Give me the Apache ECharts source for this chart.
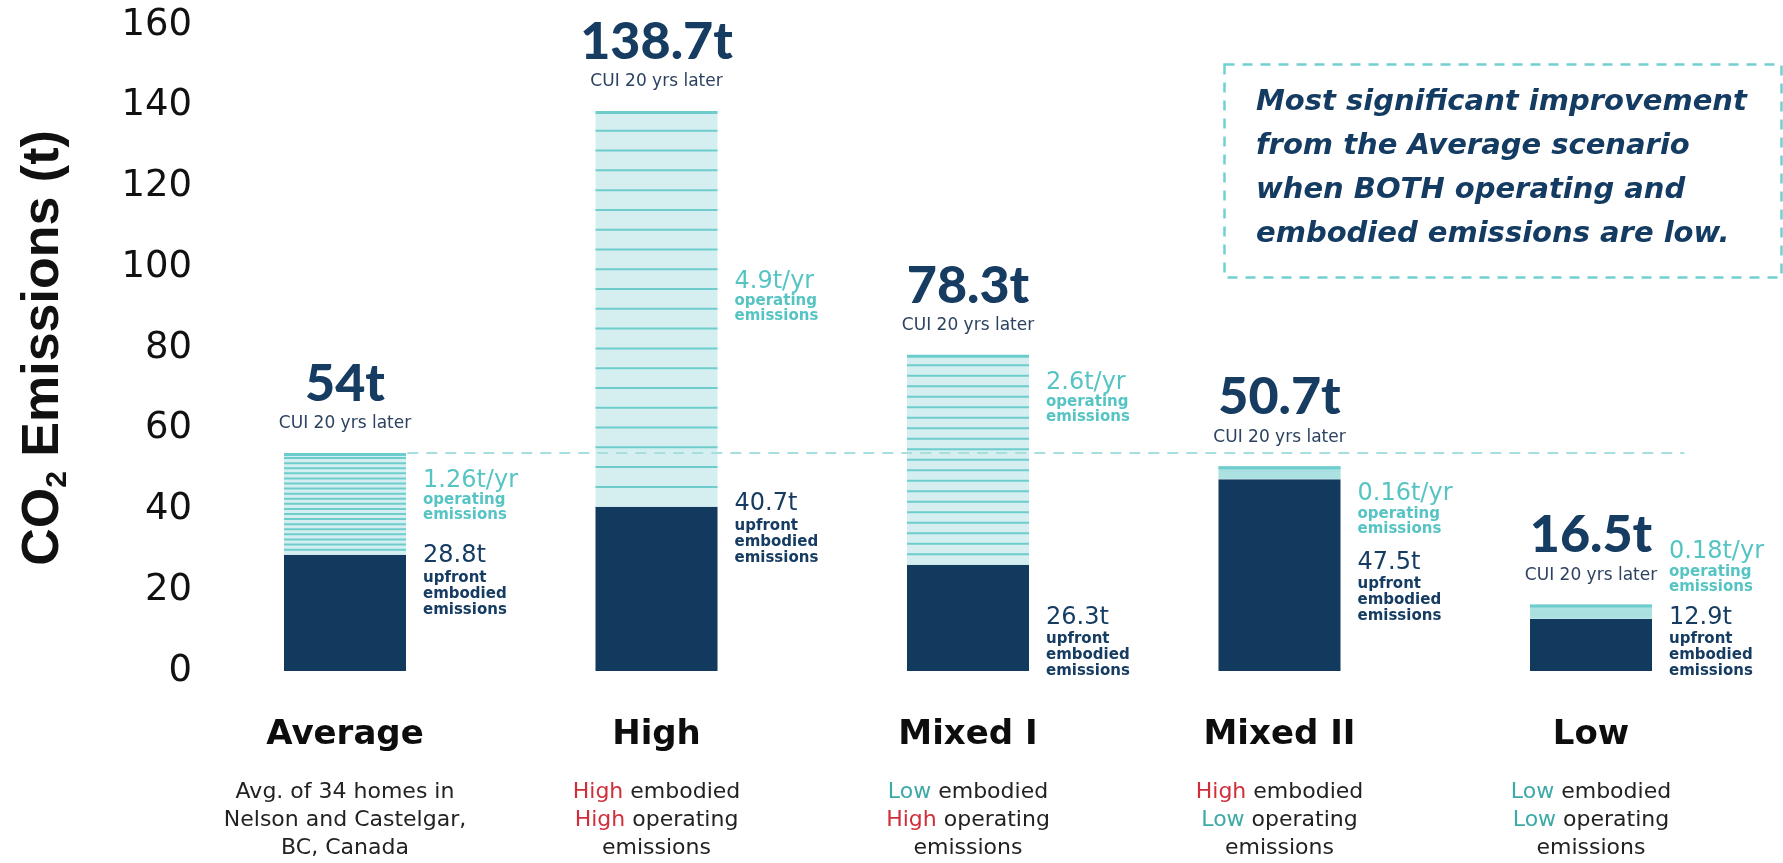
<!DOCTYPE html>
<html>
<head>
<meta charset="utf-8">
<script src="https://cdn.jsdelivr.net/npm/echarts@6/dist/echarts.min.js"></script>
<style>
  html, body { margin: 0; padding: 0; background: #ffffff; }
  #chart { width: 1783px; height: 863px; }
</style>
</head>
<body>
<div id="chart"></div>
<script>
// ---- data ----
const categories = ['Average', 'High', 'Mixed I', 'Mixed II', 'Low'];
const embodied = [28.8, 40.7, 26.3, 47.5, 12.9];          // upfront embodied emissions (t)
const operatingPerYear = [1.26, 4.9, 2.6, 0.16, 0.18];     // operating emissions (t/yr)
const YEARS = 20;                                          // horizon of the CUI figure
const embodiedLevel = ['', 'High', 'Low', 'High', 'Low'];
const operatingLevel = ['', 'High', 'High', 'Low', 'Low'];
const averageNote = ['Avg. of 34 homes in', 'Nelson and Castelgar,', 'BC, Canada'];
const yMin = 0, yMax = 160, yStep = 20;
const noteLines = [
  'Most significant improvement',
  'from the Average scenario',
  'when BOTH operating and',
  'embodied emissions are low.'
];

// cumulative emissions after YEARS years
const totals = embodied.map((e, i) => e + YEARS * operatingPerYear[i]);
const fmtT = v => String(+v.toFixed(1));

// ---- styling / layout ----
const NAVY = '#12395e';
const NAVY_TEXT = '#163c62';
const TEAL_TEXT = '#57c4c4';
const TEAL_FILL = '#d5eff0';
const STRIPE = '#6dcdcd';
const RED = '#cf2f3b';
const LOW_TEAL = '#3daaa8';
const BAR_W = 122;
const LABEL_PAD = 17;
// vertical nudges (px) for the side labels of each bar
const rateLabelDy = [19, 162, 19, 19, -61];
const embLabelDy = [-8, -12, 43, 74, -11];
// span of the Average reference line, in category units
const DASH_FROM = 0.2, DASH_TO = 4.3;

const SANS = "'DejaVu Sans', sans-serif";

function renderOperating(params, api) {
  const i = api.value(0);
  const emb = api.value(1);
  const rate = api.value(2);
  const total = emb + YEARS * rate;
  const pBase = api.coord([i, emb]);
  const pTop = api.coord([i, total]);
  const x0 = pBase[0] - BAR_W / 2;
  const h = pBase[1] - pTop[1];
  const gap = h / YEARS;
  const children = [];

  children.push({
    type: 'rect',
    shape: { x: x0, y: pTop[1], width: BAR_W, height: h },
    style: { fill: TEAL_FILL }
  });
  // one stripe per year of operating emissions
  for (let k = 1; k <= YEARS; k++) {
    const y = api.coord([i, emb + k * rate])[1];
    const w = k === YEARS ? 3 : Math.min(2, gap * 0.45);
    const yy = k === YEARS ? y + w / 2 : y;
    children.push({
      type: 'line',
      shape: { x1: x0, y1: yy, x2: x0 + BAR_W, y2: yy },
      style: { stroke: STRIPE, lineWidth: w }
    });
  }

  // total after 20 years, above the bar
  children.push({
    type: 'text',
    x: pBase[0],
    y: pTop[1] - 17,
    style: {
      text: '{big|' + fmtT(total) + 't}\n{cui|CUI 20 yrs later}',
      align: 'center',
      verticalAlign: 'bottom',
      rich: {
        big: { fontFamily: 'Lato, sans-serif', fontWeight: 900, fontSize: 52, lineHeight: 56, fill: NAVY_TEXT, align: 'center' },
        cui: { fontFamily: SANS, fontSize: 17, lineHeight: 24, fill: '#2c4260', align: 'center' }
      }
    }
  });

  const xr = x0 + BAR_W + LABEL_PAD;
  // operating rate label
  children.push({
    type: 'text',
    x: xr,
    y: pTop[1] + rateLabelDy[i] - 4,
    style: {
      text: '{v|' + rate + 't/yr}\n{s|operating}\n{s|emissions}',
      align: 'left',
      verticalAlign: 'top',
      rich: {
        v: { fontFamily: SANS, fontSize: 24, lineHeight: 25, fill: TEAL_TEXT, align: 'left' },
        s: { fontFamily: SANS, fontWeight: 'bold', fontSize: 15, lineHeight: 15, fill: TEAL_TEXT, align: 'left' }
      }
    }
  });
  // embodied label
  children.push({
    type: 'text',
    x: xr,
    y: pBase[1] + embLabelDy[i] - 4,
    style: {
      text: '{v|' + emb + 't}\n{s|upfront}\n{s|embodied}\n{s|emissions}',
      align: 'left',
      verticalAlign: 'top',
      rich: {
        v: { fontFamily: SANS, fontSize: 24, lineHeight: 27, fill: NAVY_TEXT, align: 'left' },
        s: { fontFamily: SANS, fontWeight: 'bold', fontSize: 15, lineHeight: 16, fill: NAVY_TEXT, align: 'left' }
      }
    }
  });

  return { type: 'group', children: children };
}

// dashed reference line at the Average total, running across the other scenarios
function renderAverageLine(params, api) {
  const v = api.value(1);
  const p0 = api.coord([0, v]);
  const p1 = api.coord([1, v]);
  const step = p1[0] - p0[0];
  return {
    type: 'line',
    shape: { x1: p0[0] + step * DASH_FROM, y1: p0[1], x2: p0[0] + step * DASH_TO, y2: p0[1] },
    style: { stroke: '#a7dfdf', lineWidth: 2, lineDash: [11, 8] }
  };
}

function levelKey(level) { return level === 'High' ? 'hi' : 'lo'; }

const chart = echarts.init(document.getElementById('chart'), null, { renderer: 'canvas' });

chart.setOption({
  backgroundColor: '#ffffff',
  animation: false,
  grid: { left: 345, right: 192, top: 25, bottom: 192, containLabel: false },
  xAxis: {
    type: 'category',
    data: categories,
    boundaryGap: false,
    axisLine: { show: false },
    axisTick: { show: false },
    splitLine: { show: false },
    axisLabel: {
      interval: 0,
      margin: 42,
      formatter: function (val, idx) {
        const lines = ['{name|' + val + '}', '{sp| }'];
        if (idx === 0) {
          averageNote.forEach(t => lines.push('{desc|' + t + '}'));
        } else {
          lines.push('{' + levelKey(embodiedLevel[idx]) + '|' + embodiedLevel[idx] + '}{desc| embodied}');
          lines.push('{' + levelKey(operatingLevel[idx]) + '|' + operatingLevel[idx] + '}{desc| operating}');
          lines.push('{desc|emissions}');
        }
        return lines.join('\n');
      },
      rich: {
        name: { fontFamily: SANS, fontWeight: 'bold', fontSize: 34, lineHeight: 44, color: '#0d0d0d', align: 'center' },
        sp: { fontSize: 2, lineHeight: 21, align: 'center' },
        desc: { fontFamily: SANS, fontSize: 22, lineHeight: 28, color: '#222222', align: 'center' },
        hi: { fontFamily: SANS, fontSize: 22, lineHeight: 28, color: RED, align: 'center' },
        lo: { fontFamily: SANS, fontSize: 22, lineHeight: 28, color: LOW_TEAL, align: 'center' }
      }
    }
  },
  yAxis: {
    type: 'value',
    min: yMin,
    max: yMax,
    interval: yStep,
    axisLine: { show: false },
    axisTick: { show: false },
    splitLine: { show: false },
    axisLabel: { fontFamily: SANS, fontSize: 37, color: '#111111', margin: 153 },
    name: '{n|CO}{sub|2}{n| Emissions (t)}',
    nameLocation: 'middle',
    nameRotate: 90,
    nameGap: 272,
    nameTextStyle: {
      rich: {
        n: { fontFamily: "'Liberation Sans', sans-serif", fontWeight: 'bold', fontSize: 52, lineHeight: 58, color: '#111111' },
        sub: { fontFamily: "'Liberation Sans', sans-serif", fontWeight: 'bold', fontSize: 30, lineHeight: 11, verticalAlign: 'bottom', color: '#111111' }
      }
    }
  },
  series: [
    {
      name: 'Upfront embodied',
      type: 'bar',
      data: embodied,
      barWidth: BAR_W,
      itemStyle: { color: NAVY },
      z: 2,
      silent: true
    },
    {
      name: 'Operating (20 yrs)',
      type: 'custom',
      renderItem: renderOperating,
      data: categories.map((c, i) => [i, embodied[i], operatingPerYear[i]]),
      clip: false,
      z: 3,
      silent: true
    },
    {
      name: 'Average level',
      type: 'custom',
      renderItem: renderAverageLine,
      data: [[0, totals[0]]],
      clip: false,
      z: 5,
      silent: true
    }
  ],
  graphic: [
    {
      type: 'rect',
      left: 1222,
      top: 62,
      shape: { width: 557, height: 213 },
      style: { fill: 'none', stroke: '#72d1d0', lineWidth: 2.5, lineDash: [10, 8] },
      silent: true
    },
    {
      type: 'text',
      left: 1256,
      top: 80,
      style: {
        text: noteLines.join('\n'),
        fontFamily: SANS,
        fontWeight: 'bold',
        fontStyle: 'italic',
        fontSize: 29,
        lineHeight: 44,
        fill: '#143b62'
      },
      silent: true
    }
  ]
});
</script>
</body>
</html>
